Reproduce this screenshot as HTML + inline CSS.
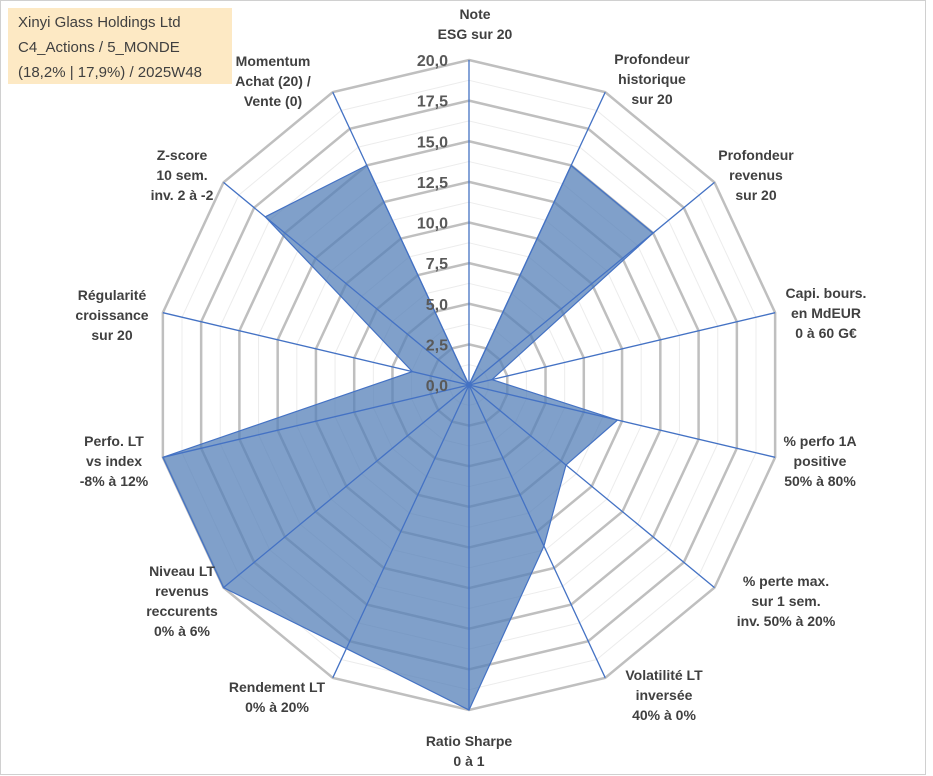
<!DOCTYPE html>
<html><head><meta charset="utf-8"><style>
body{margin:0;background:#fff;}
#wrap{position:relative;width:933px;height:776px;overflow:hidden;background:#fff;}
svg{position:absolute;left:0;top:0;}
.lbl{font:bold 14px "Liberation Sans",sans-serif;fill:#404040;}
.tick{font:bold 16px "Liberation Sans",sans-serif;fill:#595959;}
#title{position:absolute;left:8px;top:8px;width:224px;height:76px;background:#fde9c4;font:15px "Liberation Sans",sans-serif;color:#404040;line-height:25px;padding:2px 0 0 10px;box-sizing:border-box;}
</style></head><body>
<div id="wrap">
<svg id="chart" width="933" height="776">
<rect x="0.5" y="0.5" width="925" height="774" fill="none" stroke="#d0d0d0"/>
</svg>
<div id="title">Xinyi Glass Holdings Ltd<br>C4_Actions / 5_MONDE<br>(18,2% | 17,9%) / 2025W48</div>
</div>
<script>
const categories=[["Note","ESG sur 20"],["Profondeur","historique","sur 20"],["Profondeur","revenus","sur 20"],["Capi. bours.","en MdEUR","0 à 60 G€"],["% perfo 1A","positive","50% à 80%"],["% perte max.","sur 1 sem.","inv. 50% à 20%"],["Volatilité LT","inversée","40% à 0%"],["Ratio Sharpe","0 à 1"],["Rendement LT","0% à 20%"],["Niveau LT","revenus","reccurents","0% à 6%"],["Perfo. LT","vs index","-8% à 12%"],["Régularité","croissance","sur 20"],["Z-score","10 sem.","inv. 2 à -2"],["Momentum","Achat (20) /","Vente (0)"]];
const values=[0,15,15,1.5,9.7,7.9,11,20,18,20,20,3.7,16.6,15];
const tickLabels=["0,0","2,5","5,0","7,5","10,0","12,5","15,0","17,5","20,0"];
const labelPos=[[475,19],[652,64],[756,160],[826,298],[820,446],[786,586],[664,680],[469,746],[277,692],[182,576],[114,446],[112,300],[182,160],[273,66]];
const NS="http://www.w3.org/2000/svg";
const svg=document.getElementById('chart');
const cx=469,cy=385,RX=314,RY=325,maxV=20,N=categories.length;
function ang(i){return i*2*Math.PI/N;}
function pt(i,v){const f=v/maxV;return [cx+f*RX*Math.sin(ang(i)),cy-f*RY*Math.cos(ang(i))];}
function mk(tag,attrs){const e=document.createElementNS(NS,tag);for(const k in attrs)e.setAttribute(k,attrs[k]);svg.appendChild(e);return e;}
for(let k=1;k<=16;k++){
  const v=k*1.25;const pts=[];for(let i=0;i<N;i++)pts.push(pt(i,v).join(','));
  const major=k%2===0;
  const e=mk('polygon',{points:pts.join(' '),fill:'none',stroke:major?'#bfbfbf':'#ececec','stroke-width':major?2.5:1});
  
  
}
const sp=values.map((v,i)=>pt(i,v).join(',')).join(' ');
const poly=mk('polygon',{points:sp,fill:'#5580b8','fill-opacity':0.75,stroke:'#4472c4','stroke-width':1.2});


for(let i=0;i<N;i++){const p=pt(i,maxV);
  const e=mk('line',{x1:cx,y1:cy,x2:p[0],y2:p[1],stroke:'#4472c4','stroke-width':1.3});
  
  
}
tickLabels.forEach((t,k)=>{const e=mk('text',{x:cx-21,y:cy-k*RY/8+6,'text-anchor':'end',class:'tick'});e.textContent=t;
  
  
});
categories.forEach((lines,i)=>{const [x,y]=labelPos[i];
  const t=mk('text',{x:x,y:y,'text-anchor':'middle',class:'lbl'});
  
  
  lines.forEach((l,j)=>{const ts=document.createElementNS(NS,'tspan');ts.setAttribute('x',x);ts.setAttribute('dy',j?20:0);ts.textContent=l;t.appendChild(ts);});
});
</script>
</body></html>
